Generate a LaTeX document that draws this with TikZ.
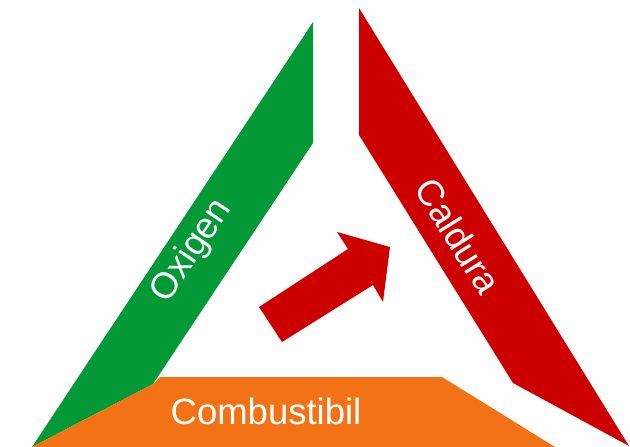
\documentclass[tikz,border=0pt]{standalone}
\usepackage{fontspec}
\setmainfont{Liberation Sans}
\definecolor{tgreen}{RGB}{3,153,54}
\definecolor{tred}{RGB}{204,0,0}
\definecolor{torange}{RGB}{244,114,22}
\begin{document}
\begin{tikzpicture}[x=1pt,y=-1pt,
  lbl/.style={text=white,font=\fontsize{36.5}{40}\selectfont,inner sep=0pt}]
\useasboundingbox (0,0) rectangle (630,447);
% green side
\fill[tgreen] (32,447) -- (313,22) -- (313,143) -- (153,384) -- cycle;
% red side
\fill[tred] (359,8) -- (629,446) -- (513,383) -- (359,135) -- cycle;
% orange base
\fill[torange] (32,447) -- (153,384) -- (160,377) -- (442,377) -- (555,447) -- cycle;
% arrow
\fill[tred] (259,307) -- (348,249) -- (337,232) -- (390,247) -- (383,302) -- (373,285) -- (282,342) -- cycle;
% labels
\node[lbl,rotate=56] (ox) at (192,251) {Oxigen};
\node[lbl,rotate=-58] (ca) at (458,236) {Caldura};
\node[lbl] (co) at (266,411) {Combustibil};
\end{tikzpicture}
\end{document}
